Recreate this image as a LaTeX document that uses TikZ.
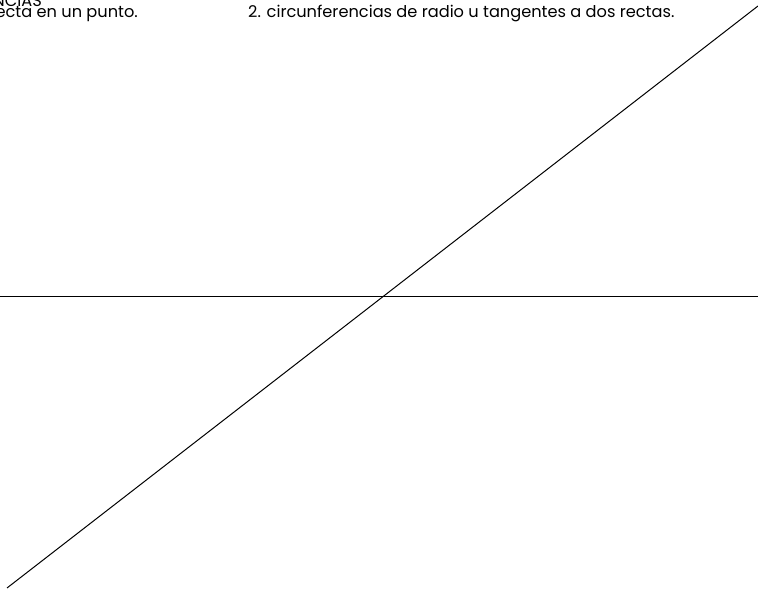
\documentclass[tikz,border=0pt]{standalone}
\usepackage{fontspec}
\setmainfont{Poppins}
\begin{document}
\begin{tikzpicture}[x=1pt,y=1pt,
  lbl/.style={inner sep=0pt,font=\fontsize{16.2}{19}\selectfont},
  ln/.style={line width=1pt,black}]
\useasboundingbox (0,0) rectangle (758,589);
\node[lbl,anchor=base east] (t1) at (42,582.5) {TANGENCIAS};
\node[lbl,anchor=base east] (t2) at (138,571) {Tangentes a una recta en un punto.};
\node[lbl,anchor=base west] (t3) at (248,571) {2. circunferencias de radio u tangentes a dos rectas.};
\coordinate (h1) at (0,292);
\coordinate (h2) at (758,292);
\coordinate (d1) at (7,1);
\coordinate (d2) at (758,583);
\draw[ln] (h1) -- (h2);
\draw[ln] (d1) -- (d2);
\end{tikzpicture}
\end{document}
